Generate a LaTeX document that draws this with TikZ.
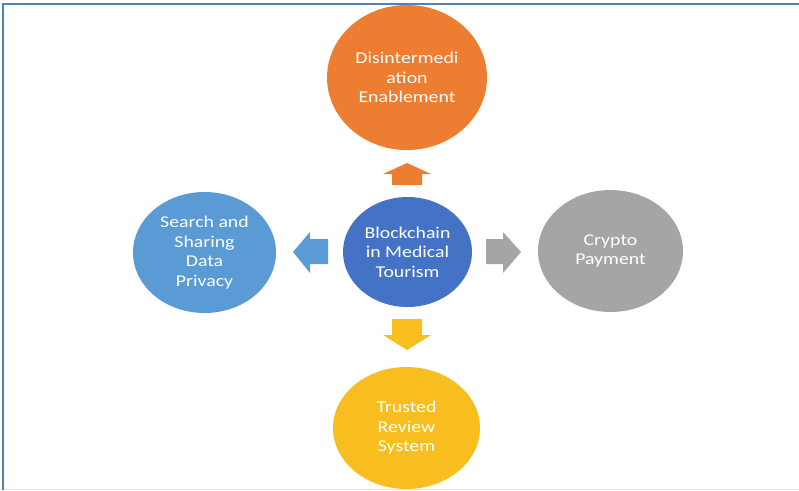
\documentclass[tikz,border=0pt]{standalone}
\usepackage{fontspec}
\setmainfont{Carlito}[FakeStretch=1.2]
\usepackage{tikz}
\usetikzlibrary{shapes.geometric}
\definecolor{hubblue}{RGB}{68,114,196}
\definecolor{disorange}{RGB}{237,125,49}
\definecolor{privblue}{RGB}{91,155,213}
\definecolor{cryptogray}{RGB}{165,165,165}
\definecolor{reviewgold}{RGB}{248,190,32}
\definecolor{frameblue}{RGB}{79,129,189}

\begin{document}
\begin{tikzpicture}[x=1pt,y=-1pt,
  bubble/.style={ellipse,inner sep=0pt,text=white,align=center,
    font=\fontsize{16.5}{19.5}\selectfont}]
\useasboundingbox (0,0) rectangle (799,490);
\draw[line width=2pt,color=frameblue] (3,490) -- (3,4) -- (799,4);
\draw[color=black!10] (4,489) -- (799,489);
% the five bubbles
\node[bubble,fill=hubblue,minimum width=129,minimum height=110] (hub) at (407.5,252) {Blockchain\\in Medical\\Tourism};
\node[bubble,fill=disorange,minimum width=160,minimum height=145] (disint) at (407,77.5) {Disintermedi\\ation\\Enablement};
\node[bubble,fill=privblue,minimum width=143,minimum height=121] (privacy) at (204.5,252.5) {Search and\\Sharing\\Data\\Privacy};
\node[bubble,fill=cryptogray,minimum width=145,minimum height=122] (crypto) at (610.5,251) {Crypto\\Payment};
\node[bubble,fill=reviewgold,minimum width=147,minimum height=122] (review) at (406.5,428) {Trusted\\Review\\System};
% block arrows
\fill[disorange] (407,163) -- (431,174) -- (422,174) -- (422,185) -- (392,185) -- (392,174) -- (383,174) -- cycle;
\fill[reviewgold] (407,350) -- (431,335) -- (422,335) -- (422,319) -- (392,319) -- (392,335) -- (383,335) -- cycle;
\fill[privblue] (293,252) -- (310,232) -- (310,239) -- (328,239) -- (328,264) -- (310,264) -- (310,273) -- cycle;
\fill[cryptogray] (521,252) -- (503,232) -- (503,239) -- (486,239) -- (486,264) -- (503,264) -- (503,273) -- cycle;
\end{tikzpicture}
\end{document}
